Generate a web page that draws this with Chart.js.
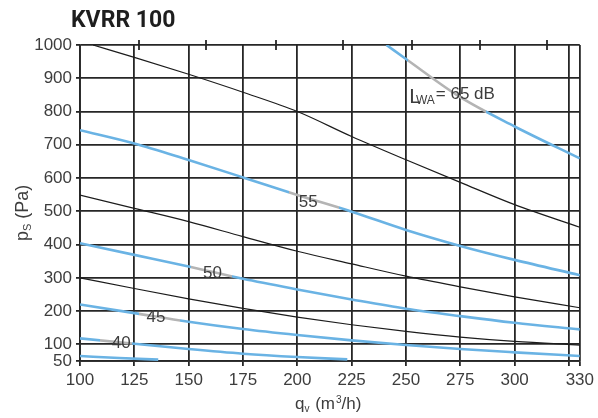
<!DOCTYPE html>
<html>
<head>
<meta charset="utf-8">
<title>KVRR 100</title>
<script src="https://cdn.jsdelivr.net/npm/chart.js@4.4.1/dist/chart.umd.min.js"></script>
<style>
  html, body { margin: 0; padding: 0; background: #ffffff; }
  #wrap { width: 598px; height: 418px; position: relative; }
</style>
</head>
<body>
<div id="wrap"><canvas id="chart" width="598" height="418"></canvas></div>
<script>
// Axis ticks
const xTicks = [100, 125, 150, 175, 200, 225, 250, 275, 300, 325, 330];
const xTickLabels = ['100', '125', '150', '175', '200', '225', '250', '275', '300', '', '330'];
const yTicks = [50, 100, 200, 300, 400, 500, 600, 700, 800, 900, 1000];
const topTicks = [127, 158, 190, 221, 253, 284, 315];

// Pressure curves (black): flow qv in m3/h, static pressure ps in Pa
const qvFull = [100, 125, 150, 175, 200, 225, 250, 275, 300, 330];
const qvUpper = [106, 125, 150, 175, 200, 225, 250, 275, 300, 330];
const psUpper = [1000, 963, 912, 858, 800, 725, 655, 587, 520, 452];
const psMiddle = [549, 509, 469, 424, 380, 342, 305, 273, 243, 210];
const psLower = [300, 268, 237, 208, 182, 159, 139, 122, 109, 98];

// Sound power curves (blue), LWA in dB
const ps55 = [744, 704, 654, 602, 549, 499, 444, 396, 354, 308];
const ps50 = [404, 369, 334, 297, 265, 235, 207, 185, 165, 145];
const ps45 = [220, 194, 168, 146, 128, 112, 98, 86, 76, 65];
const qv40 = [100, 125, 150, 175, 200, 223];
const ps40 = [118, 102, 86, 72, 62, 55];
const qv35 = [100, 118, 136];
const ps35 = [65, 59, 54];
const qv65 = [241, 250, 275, 300, 330];
const ps65 = [1000, 958, 843, 755, 659];

// Styles
const BLUE = '#6ab3e4';
const FADE = '#b4b4b4';
const INK = '#1c1c1c';
const GRID = '#262626';
const TEXT = '#3d3d3d';
const FONT = "'Liberation Sans', Arial, sans-serif";

// Flow range (m3/h) where each labelled curve is faded behind its label
const fadeRanges = { '65': [251, 287], '55': [196, 219], '50': [151, 170], '45': [127, 146], '40': [109, 124] };

// Curve label anchors (in axis units)
const curveLabels = [
  { text: '55', qv: 205, ps: 528 },
  { text: '50', qv: 161, ps: 315 },
  { text: '45', qv: 135, ps: 180 },
  { text: '40', qv: 119, ps: 104 }
];
const lwaLabel = { qv: 251.5, ps: 860 };

function pts(xs, ys) { return xs.map((x, i) => ({ x: x, y: ys[i] })); }

function fadedBlue(key) {
  return function (ctx) {
    const chart = ctx.chart;
    if (!chart.chartArea || !chart.scales.x) return BLUE;
    const r = fadeRanges[key];
    const sx = chart.scales.x;
    const w = chart.width;
    const a = Math.min(Math.max(sx.getPixelForValue(r[0]) / w, 0), 1);
    const b = Math.min(Math.max(sx.getPixelForValue(r[1]) / w, 0), 1);
    const g = chart.ctx.createLinearGradient(0, 0, w, 0);
    g.addColorStop(0, BLUE);
    g.addColorStop(a, BLUE);
    g.addColorStop(a, FADE);
    g.addColorStop(b, FADE);
    g.addColorStop(b, BLUE);
    g.addColorStop(1, BLUE);
    return g;
  };
}

function blackCurve(xs, ys) {
  return { data: pts(xs, ys), borderColor: INK, borderWidth: 1.2, pointRadius: 0, cubicInterpolationMode: 'monotone', order: 2 };
}
function blueCurve(xs, ys, key) {
  return { data: pts(xs, ys), borderColor: key ? fadedBlue(key) : BLUE, borderWidth: 2.6, pointRadius: 0, cubicInterpolationMode: 'monotone', order: 1 };
}

const datasets = [
  blackCurve(qvUpper, psUpper),
  blackCurve(qvFull, psMiddle),
  blackCurve(qvFull, psLower),
  blueCurve(qv65, ps65, '65'),
  blueCurve(qvFull, ps55, '55'),
  blueCurve(qvFull, ps50, '50'),
  blueCurve(qvFull, ps45, '45'),
  blueCurve(qv40, ps40, '40'),
  blueCurve(qv35, ps35, null)
];

// Title, axis titles with sub/superscripts, curve labels and top tick marks
const annotations = {
  id: 'annotations',
  afterDatasetsDraw(chart) {
    const ctx = chart.ctx;
    const sx = chart.scales.x, sy = chart.scales.y, st = chart.scales.xTop;
    const area = chart.chartArea;
    ctx.save();

    // short marks across the top border
    ctx.strokeStyle = GRID;
    ctx.lineWidth = 1.8;
    st.ticks.forEach(t => {
      const px = Math.round(st.getPixelForValue(t.value));
      ctx.beginPath();
      ctx.moveTo(px, area.top - 5);
      ctx.lineTo(px, area.top + 5);
      ctx.stroke();
    });

    // curve labels
    ctx.fillStyle = TEXT;
    ctx.textAlign = 'center';
    ctx.textBaseline = 'middle';
    ctx.font = '17px ' + FONT;
    curveLabels.forEach(l => {
      ctx.fillText(l.text, sx.getPixelForValue(l.qv), sy.getPixelForValue(l.ps));
    });

    // L_WA = 65 dB
    ctx.textAlign = 'left';
    ctx.textBaseline = 'alphabetic';
    let lx = sx.getPixelForValue(lwaLabel.qv);
    const ly = sy.getPixelForValue(lwaLabel.ps) + 7;
    ctx.font = '21px ' + FONT;
    ctx.fillText('L', lx, ly + 4);
    lx += ctx.measureText('L').width - 5;
    ctx.font = '12px ' + FONT;
    ctx.fillText('WA', lx, ly + 5);
    lx += ctx.measureText('WA').width + 1;
    ctx.font = '17px ' + FONT;
    ctx.fillText('= 65 dB', lx, ly);

    // chart title
    ctx.fillStyle = '#1e1e1e';
    ctx.font = "bold 23px Roboto, 'Liberation Sans', sans-serif";
    ctx.fillText('KVRR 100', 71, 27);

    // x axis title: q_v (m^3/h)
    ctx.fillStyle = TEXT;
    let tx = 295;
    const tb = 409;
    ctx.font = '17px ' + FONT;
    ctx.fillText('q', tx, tb);
    tx += ctx.measureText('q').width;
    ctx.font = '10px ' + FONT;
    ctx.fillText('v', tx, tb + 3);
    tx += ctx.measureText('v').width + 1;
    ctx.font = '17px ' + FONT;
    ctx.fillText(' (m', tx, tb);
    tx += ctx.measureText(' (m').width + 1;
    ctx.font = '10px ' + FONT;
    ctx.fillText('3', tx, tb - 6);
    tx += ctx.measureText('3').width;
    ctx.font = '17px ' + FONT;
    ctx.fillText('/h)', tx, tb);

    // y axis title: p_S (Pa)
    ctx.translate(28, 241);
    ctx.rotate(-Math.PI / 2);
    let ty = 0;
    ctx.font = '18px ' + FONT;
    ctx.fillText('p', ty, 0);
    ty += ctx.measureText('p').width;
    ctx.font = '11px ' + FONT;
    ctx.fillText('S', ty, 3);
    ty += ctx.measureText('S').width;
    ctx.font = '18px ' + FONT;
    ctx.fillText(' (Pa)', ty, 0);

    ctx.restore();
  }
};

const chart = new Chart(document.getElementById('chart'), {
  type: 'line',
  data: { datasets: datasets },
  options: {
    responsive: false,
    devicePixelRatio: 1,
    animation: false,
    parsing: false,
    layout: { padding: { left: 0, right: 17, top: 0, bottom: 0 } },
    plugins: { legend: { display: false }, tooltip: { enabled: false }, title: { display: false } },
    scales: {
      x: {
        type: 'linear', position: 'bottom', min: 100, max: 330,
        afterBuildTicks: s => { s.ticks = xTicks.map(v => ({ value: v })); },
        afterFit: s => { s.height = 57; },
        ticks: {
          autoSkip: false, maxRotation: 0, padding: 4, color: TEXT,
          font: { family: FONT, size: 17 },
          callback: (v, i) => xTickLabels[i]
        },
        grid: { color: GRID, lineWidth: 1.8, tickLength: 5 },
        border: { color: GRID, width: 1.8 }
      },
      xTop: {
        type: 'linear', position: 'top', min: 100, max: 330,
        afterBuildTicks: s => { s.ticks = topTicks.map(v => ({ value: v })); },
        afterFit: s => { s.height = 45; },
        ticks: { display: false },
        grid: { display: false },
        border: { display: false }
      },
      y: {
        type: 'linear', position: 'left', min: 50, max: 1000,
        afterBuildTicks: s => { s.ticks = yTicks.map(v => ({ value: v })); },
        afterFit: s => { s.width = 80; },
        ticks: {
          autoSkip: false, padding: 4, color: TEXT,
          font: { family: FONT, size: 17 },
          callback: v => String(v)
        },
        grid: { color: GRID, lineWidth: 1.8, tickLength: 4 },
        border: { color: GRID, width: 1.8 }
      }
    }
  },
  plugins: [annotations]
});
// second pass so the faded label segments use the final scale layout
chart.update();
</script>
</body>
</html>
